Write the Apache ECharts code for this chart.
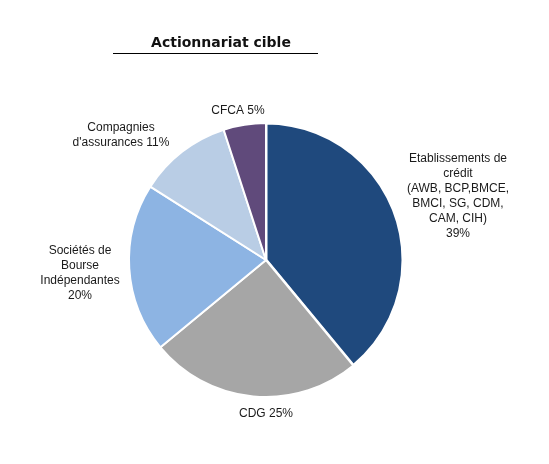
<!DOCTYPE html>
<html>
<head>
<meta charset="utf-8">
<script src="https://cdn.jsdelivr.net/npm/echarts@6/dist/echarts.min.js"></script>
<style>
  html, body { margin: 0; padding: 0; background: #fff; }
  #chart { width: 549px; height: 464px; }
</style>
</head>
<body>
<div id="chart"></div>
<script>
var categories = [
    'Etablissements de\ncrédit\n(AWB, BCP,BMCE,\nBMCI, SG, CDM,\nCAM, CIH)',
    'CDG',
    'Sociétés de\nBourse\nIndépendantes',
    'Compagnies\nd\'assurances',
    'CFCA'
];
var shares = [39, 25, 20, 11, 5];
var colors = ['#1f497d', '#a6a6a6', '#8db4e3', '#b9cde5', '#604a7b'];
// percent goes on its own line for the long labels, inline for the short ones
var pctOnNewLine = [true, false, true, false, false];
var labelPos = [[458, 196], [266, 414], [80, 273], [121, 135], [238, 111]];

var chart = echarts.init(document.getElementById('chart'));

var pieData = categories.map(function (name, i) {
    return {
        name: name,
        value: shares[i],
        itemStyle: { color: colors[i], borderWidth: i === 0 ? 3 : 2 }
    };
});

chart.setOption({
    animation: false,
    title: {
        text: 'Actionnariat cible',
        left: 216,
        top: 31,
        textAlign: 'center',
        textStyle: {
            fontFamily: 'DejaVu Sans',
            fontSize: 14,
            fontWeight: 'bold',
            color: '#111'
        }
    },
    graphic: [{
        type: 'line',
        shape: { x1: 113, y1: 53.5, x2: 318, y2: 53.5 },
        style: { stroke: '#000', lineWidth: 1 }
    }],
    series: [{
        type: 'pie',
        left: 0,
        top: 0,
        width: 549,
        height: 464,
        center: [266, 260],
        radius: 137,
        startAngle: 90,
        clockwise: true,
        data: pieData,
        itemStyle: { borderColor: '#fff' },
        emphasis: { disabled: true },
        label: {
            show: true,
            position: 'outside',
            overflow: 'none',
            edgeDistance: 0,
            bleedMargin: 0,
            fontFamily: 'Liberation Sans',
            fontSize: 12,
            lineHeight: 15,
            color: '#1a1a1a',
            align: 'center',
            formatter: function (p) {
                return p.name + (pctOnNewLine[p.dataIndex] ? '\n' : ' ') + p.value + '%';
            }
        },
        labelLine: { show: false },
        labelLayout: function (params) {
            var pos = labelPos[params.dataIndex];
            return { x: pos[0], y: pos[1], align: 'center', verticalAlign: 'middle' };
        }
    }]
});
</script>
</body>
</html>
